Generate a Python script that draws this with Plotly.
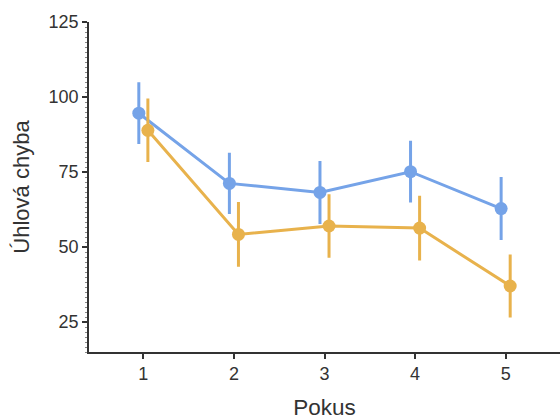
import plotly.graph_objects as go

trials = [1, 2, 3, 4, 5]
x_labels = ["1", "2", "3", "4", "5"]
blue_mean = [94.6, 71.2, 68.2, 75.1, 62.8]
blue_err = [9.8, 9.7, 10.0, 9.8, 10.0]
orange_mean = [88.9, 54.2, 57.0, 56.3, 37.0]
orange_err = [10.1, 10.3, 10.1, 10.3, 10.0]

dodge = 0.05
BLUE = "#75A3E8"
ORANGE = "#E8B24C"

fig = go.Figure()
for means, errs, color, off in [(blue_mean, blue_err, BLUE, -dodge),
                                 (orange_mean, orange_err, ORANGE, dodge)]:
    fig.add_trace(go.Scatter(
        x=[t + off for t in trials], y=means,
        mode="lines+markers",
        line=dict(color=color, width=3),
        marker=dict(color=color, size=13),
        error_y=dict(type="data", array=errs, color=color, thickness=3, width=1.5),
        showlegend=False,
    ))

font_family = "Liberation Sans, Arial, sans-serif"
fig.update_layout(
    width=560, height=420,
    margin=dict(l=89, r=0, t=22, b=68),
    paper_bgcolor="white", plot_bgcolor="white",
    font=dict(family=font_family, color="#333333"),
    xaxis=dict(
        range=[0.4, 5.6], tickvals=trials, ticktext=x_labels,
        showline=True, linecolor="#333333", linewidth=1.5,
        ticks="outside", ticklen=5, tickwidth=2, tickcolor="#333333",
        showgrid=False, zeroline=False,
        tickfont=dict(size=18, family=font_family, color="#333333"),
        title=dict(text="Pokus", font=dict(size=22.5), standoff=17),
    ),
    yaxis=dict(
        range=[15, 125], tickvals=[25, 50, 75, 100, 125],
        showline=True, linecolor="#333333", linewidth=1.5,
        ticks="outside", ticklen=5, tickwidth=2, tickcolor="#333333",
        minor=dict(ticks="outside", ticklen=2, tickwidth=1, tickcolor="#888888", dtick=25/15),
        showgrid=False, zeroline=False,
        tickfont=dict(size=18, family=font_family, color="#333333"),
        title=dict(text="Úhlová chyba", font=dict(size=22), standoff=13),
    ),
)

fig.write_html("out.html")
